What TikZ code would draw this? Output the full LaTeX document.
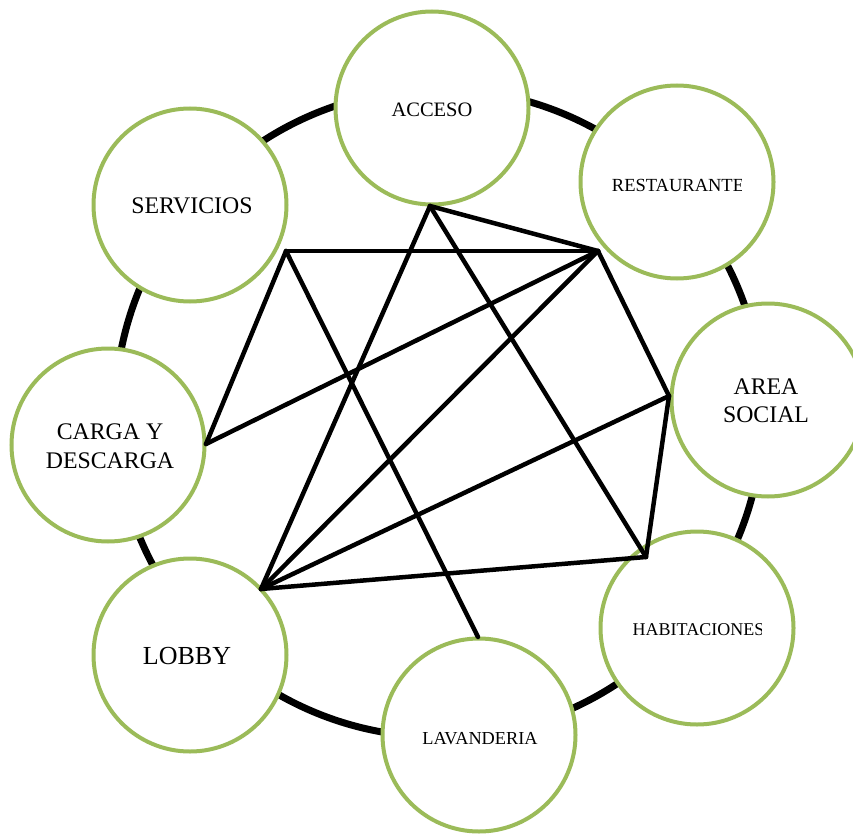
\documentclass[tikz,border=0pt]{standalone}
\usepackage{fontspec}
\setmainfont{Liberation Serif}
\definecolor{olive}{HTML}{9BBB59}
\begin{document}
\begin{tikzpicture}[x=1pt,y=-1pt,
  room/.style={circle,draw=olive,line width=4pt,fill=white,minimum size=193pt,inner sep=0pt},
  lbl/.style={inner sep=0pt,align=center,font=#1},
  link/.style={line width=4.5pt,line join=miter,line cap=round}]
\useasboundingbox (0,0) rectangle (853,834);
% outer ring
\node[circle,draw=black,line width=7pt,minimum size=648pt,inner sep=0pt] (ring) at (439,413) {};
% rooms
\node[room] (acc) at (432,108) {};
\node[room] (res) at (677,182) {};
\node[room] (soc) at (768,400) {};
\node[room] (hab) at (697,628) {};
\node[room] (lav) at (479,735) {};
\node[room] (lob) at (190,655) {};
\node[room] (car) at (108,445) {};
\node[room] (ser) at (190,205) {};
% labels
\node[lbl={\fontsize{20.5}{24}\selectfont}] (tacc) at (432,110) {ACCESO};
\begin{scope}
  \clip (600,160) rectangle (741,210);
  \node[lbl={\fontsize{18.5}{22}\selectfont}] (tres) at (678,185) {RESTAURANTE};
\end{scope}
\node[lbl={\fontsize{23.8}{28}\selectfont}] (tsoc) at (766,401) {AREA\\SOCIAL};
\begin{scope}
  \clip (620,605) rectangle (761,655);
  \node[lbl={\fontsize{18}{22}\selectfont}] (thab) at (698.5,630) {HABITACIONES};
\end{scope}
\node[lbl={\fontsize{18.3}{22}\selectfont}] (tlav) at (480,739) {LAVANDERIA};
\node[lbl={\fontsize{26}{30}\selectfont}] (tlob) at (187,656) {LOBBY};
\node[lbl={\fontsize{23.8}{28.5}\selectfont}] (tcar) at (110,446) {CARGA Y\\DESCARGA};
\node[lbl={\fontsize{23.8}{28}\selectfont}] (tser) at (192,206) {SERVICIOS};
% connector end points
\coordinate (A) at (430,206);
\coordinate (R) at (598,251);
\coordinate (S) at (286,251);
\coordinate (C) at (206,444);
\coordinate (L) at (261,589);
\coordinate (AS) at (669,396);
\coordinate (H) at (646,557);
\coordinate (LV) at (478,637);
% connectors
\draw[link] (A) -- (R);
\draw[link] (A) -- (L);
\draw[link] (A) -- (H);
\draw[link] (S) -- (R);
\draw[link] (S) -- (C);
\draw[link] (S) -- (LV);
\draw[link] (R) -- (C);
\draw[link] (R) -- (L);
\draw[link] (R) -- (AS);
\draw[link] (AS) -- (L);
\draw[link] (AS) -- (H);
\draw[link] (H) -- (L);
\end{tikzpicture}
\end{document}
